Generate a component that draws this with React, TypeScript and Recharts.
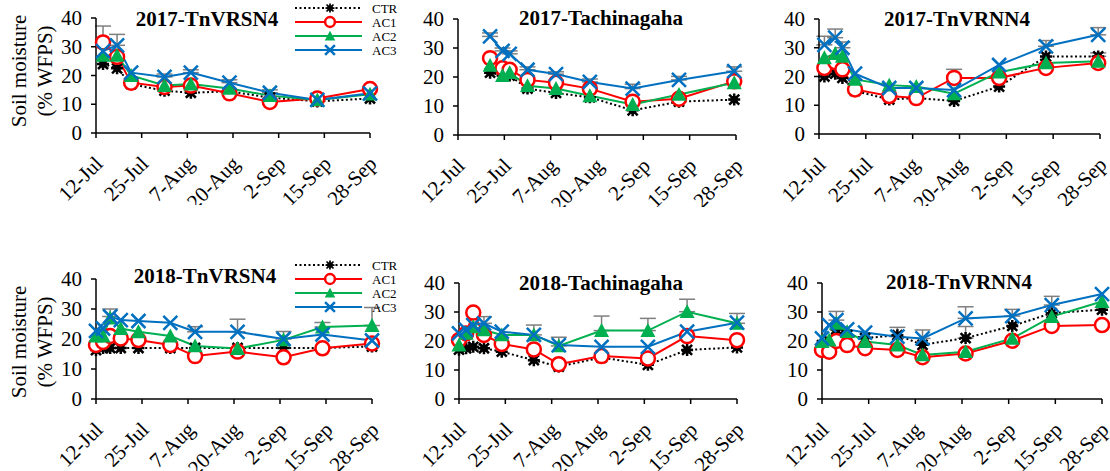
import React from 'react'
import { LineChart, Line, XAxis, YAxis, ErrorBar } from 'recharts'

const FONT = 'Liberation Serif, Times New Roman, serif'

// x axis is days after 12-Jul, ticks every 13 days
const tickDays = [0, 13, 26, 39, 52, 65, 78]
const tickLabels = ['12-Jul', '25-Jul', '7-Aug', '20-Aug', '2-Sep', '15-Sep', '28-Sep']
const yTicks = [0, 10, 20, 30, 40]
const seriesNames = ['CTR', 'AC1', 'AC2', 'AC3']

// 2017-TnVRSN4
const d17a = [2, 6, 10, 19.5, 27, 38, 49.5, 63, 78]
const ctr17a = [24, 22.5, 17, 14.7, 14, 14.5, 12.3, 11, 12]
const ac1_17a = [31.5, 26.5, 17.5, 16, 16.5, 13.8, 10.8, 12, 15.3]
const ac2_17a = [27, 27, 20, 16.5, 17, 15.5, 13, 11.5, 13.5]
const ac3_17a = [28.5, 30.5, 21, 19.5, 21, 17.5, 14, 11.5, 13.8]
const err17a = { ac1: [5.7, 0, 0, 0, 0, 0, 0, 0, 0], ac3: [0, 3.8, 0, 1, 1, 1, 1, 0, 0] }

// 2017-Tachinagaha
const d17b = [9, 12.5, 14.5, 19.5, 27.5, 37, 49, 62, 77.5]
const ctr17b = [21.5, 20.5, 20.5, 16, 14.5, 13, 8.5, 11.5, 12.2]
const ac1_17b = [26.5, 23, 22.5, 19, 18, 16, 11.5, 12.5, 18.5]
const ac2_17b = [24, 20.5, 21.5, 17, 16, 13.5, 10.5, 14, 18]
const ac3_17b = [34, 29, 28, 22.5, 21, 18.3, 16, 19, 22]
const err17b = { ac3: [1.2, 1, 1, 1, 0.8, 1, 1.5, 1.2, 1.5] }

// 2017-TnVRNN4
const d17c = [1.5, 4.5, 6.5, 10, 19.5, 27, 37.5, 50, 63, 77.5]
const ctr17c = [20, 21, 19.5, 15, 12, 12.5, 11.5, 16.5, 27, 27]
const ac1_17c = [23, 25, 22.5, 15.5, 13.2, 12.5, 19.5, 19.5, 23, 24.7]
const ac2_17c = [26.5, 28, 27, 19, 17, 16.5, 14, 21.5, 24.7, 25.3]
const ac3_17c = [31, 33.5, 30, 21, 16, 16, 15.3, 24, 30.5, 34.5]
const err17c = {
  ctr: [0, 0, 0, 0, 0, 0, 0, 0, 0, 1.2],
  ac1: [0, 0, 0, 0, 0, 0, 3, 0, 0, 0],
  ac3: [3, 3, 2, 0, 0, 0, 0, 0, 2, 2.5],
}

// 2018 sampling days (shared by the three sites)
const d18 = [0, 2, 4, 7, 12, 21, 28, 40, 53, 64, 78]

// 2018-TnVRSN4
const ctr18a = [16.3, 17, 17, 17, 17, 17, 17, 17, 17, 17, 17.5]
const ac1_18a = [18, 19, 21, 20.2, 19.7, 18, 14.3, 15.8, 13.9, 16.9, 18.5]
const ac2_18a = [21, 21, 27, 23.5, 22.4, 21, 17.7, 16.8, 19.7, 24, 24.5]
const ac3_18a = [22.7, 23.5, 27.5, 26.3, 26, 25.4, 22.4, 22.4, 20, 21.5, 19.5]
const err18a = {
  ac2: [0, 0, 0, 0, 0, 0, 0, 0, 0, 1.5, 6],
  ac3: [0, 0, 2.5, 0, 0, 0, 1.7, 4.2, 2.5, 0, 0],
}

// 2018-Tachinagaha
const ctr18b = [17, 17.5, 18, 17.5, 16.3, 13.4, 11.2, 14.3, 11.8, 16.9, 17.8]
const ac1_18b = [20.3, 22.6, 29.8, 22.1, 19, 17.1, 12, 14.8, 14, 21.7, 20.3]
const ac2_18b = [18.6, 22.6, 24.9, 23.8, 22.1, 22.1, 18.3, 23.6, 23.6, 30.1, 26.1]
const ac3_18b = [22.6, 23.8, 25.5, 26.1, 23.2, 22.1, 18.6, 18, 18, 23.2, 26.3]
const err18b = {
  ac2: [0, 0, 0, 0, 0, 3.4, 3, 5, 4.2, 4.3, 3.4],
  ac3: [0, 0, 0, 2.3, 0, 0, 0, 0, 0, 0, 0],
}

// 2018-TnVRNN4
const ctr18c = [18.6, 20, 24, 22, 21, 22, 18.7, 21, 25.2, 29.6, 30.8]
const ac1_18c = [16.9, 16.3, 20, 18.6, 17.5, 16.9, 14.4, 15.7, 20.1, 25.2, 25.5]
const ac2_18c = [19.8, 20.3, 26.1, 23.2, 19.8, 18.6, 15.2, 16.3, 20.9, 28.4, 33.6]
const ac3_18c = [20.9, 25.5, 27.2, 24, 22.9, 21.5, 20.9, 27.8, 28.6, 32.4, 36.2]
const err18c = {
  ctr: [0, 0, 0, 0, 0, 0, 0, 4, 0, 0, 0],
  ac3: [0, 0, 3, 0, 0, 3.2, 2.9, 4, 2.3, 3, 0],
}

const RED = '#FF0000'
const GREEN = '#00B050'
const BLUE = '#0070C0'
const GREY = '#7F7F7F'

function CtrMark({ cx, cy, s = 1 }: any) {
  const a = 5 * s
  return (
    <g>
      <path
        d={`M${cx - a} ${cy - a}L${cx + a} ${cy + a}M${cx + a} ${cy - a}L${cx - a} ${cy + a}M${cx} ${cy - a - 1}L${cx} ${cy + a + 1}M${cx - a - 1} ${cy}L${cx + a + 1} ${cy}`}
        stroke="#000"
        strokeWidth={2.5 * s}
      />
      <rect x={cx - 3.5 * s} y={cy - 3.5 * s} width={7 * s} height={7 * s} fill="#000" />
    </g>
  )
}
function CircleMark({ cx, cy, s = 1 }: any) {
  return <circle cx={cx} cy={cy} r={7 * s} fill="#fff" stroke={RED} strokeWidth={2.5} />
}
function TriMark({ cx, cy, s = 1 }: any) {
  const h = 7.5 * s
  return <path d={`M${cx} ${cy - h}L${cx + h} ${cy + h * 0.85}L${cx - h} ${cy + h * 0.85}Z`} fill={GREEN} />
}
function XMark({ cx, cy, s = 1 }: any) {
  const a = 7 * s
  return (
    <path
      d={`M${cx - a} ${cy - a}L${cx + a} ${cy + a}M${cx + a} ${cy - a}L${cx - a} ${cy + a}`}
      stroke={BLUE}
      strokeWidth={2.5}
    />
  )
}

const dotOf = (Mark: any) => (p: any) =>
  p.cx == null ? <g key={p.index} /> : <Mark key={p.index} cx={p.cx} cy={p.cy} />

function XTick({ x, y, payload }: any) {
  const i = tickDays.indexOf(payload.value)
  const ax = x + 8
  const ay = y + 27
  return (
    <text
      x={ax}
      y={ay}
      transform={`rotate(-45 ${ax} ${ay})`}
      textAnchor="end"
      style={{ fontSize: 21, fontFamily: FONT }}
      fill="#000"
    >
      {tickLabels[i]}
    </text>
  )
}

function YTick({ x, y, payload }: any) {
  return (
    <text x={x} y={y} dy={7} textAnchor="end" style={{ fontSize: 21, fontFamily: FONT }} fill="#000">
      {payload.value}
    </text>
  )
}

const eb = (arr: number[] | undefined, i: number) => (arr && arr[i] ? [0, arr[i]] : null)

function Panel({ title, days, ctr, ac1, ac2, ac3, errs, box, titleX, titleY }: any) {
  const data = days.map((d: number, i: number) => ({
    day: d,
    ctr: ctr[i],
    ac1: ac1[i],
    ac2: ac2[i],
    ac3: ac3[i],
    eCtr: eb(errs.ctr, i),
    eAc1: eb(errs.ac1, i),
    eAc2: eb(errs.ac2, i),
    eAc3: eb(errs.ac3, i),
  }))
  const YW = 60
  const MT = 16
  const MR = 10
  const XH = 72
  const w = box.r - box.l + YW + MR
  const h = box.b - box.t + MT + XH
  const errProps = { width: 8, strokeWidth: 1.5, stroke: GREY, direction: 'y' as const }
  return (
    <>
      <div style={{ position: 'absolute', left: box.l - YW, top: box.t - MT }}>
        <LineChart width={w} height={h} data={data} margin={{ top: MT, right: MR, left: 0, bottom: 0 }}>
          <XAxis
            type="number"
            dataKey="day"
            domain={[0, 78]}
            ticks={tickDays}
            interval={0}
            height={XH}
            tickSize={5}
            tickMargin={0}
            tick={<XTick />}
            stroke="#000"
            strokeWidth={1.5}
          />
          <YAxis
            type="number"
            domain={[0, 40]}
            ticks={yTicks}
            interval={0}
            width={YW}
            tickSize={5}
            tickMargin={9}
            tick={<YTick />}
            stroke="#000"
            strokeWidth={1.5}
          />
          <Line dataKey="ctr" stroke="#000" strokeWidth={2} strokeDasharray="2 2.5" dot={dotOf(CtrMark)} isAnimationActive={false}>
            <ErrorBar dataKey="eCtr" {...errProps} />
          </Line>
          <Line dataKey="ac1" stroke={RED} strokeWidth={2} dot={dotOf(CircleMark)} isAnimationActive={false}>
            <ErrorBar dataKey="eAc1" {...errProps} />
          </Line>
          <Line dataKey="ac2" stroke={GREEN} strokeWidth={2} dot={dotOf(TriMark)} isAnimationActive={false}>
            <ErrorBar dataKey="eAc2" {...errProps} />
          </Line>
          <Line dataKey="ac3" stroke={BLUE} strokeWidth={2} dot={dotOf(XMark)} isAnimationActive={false}>
            <ErrorBar dataKey="eAc3" {...errProps} />
          </Line>
        </LineChart>
      </div>
      <div
        style={{
          position: 'absolute',
          left: titleX,
          top: titleY,
          transform: 'translate(-50%, -50%)',
          fontFamily: FONT,
          fontWeight: 'bold',
          fontSize: 21,
          whiteSpace: 'nowrap',
          color: '#000',
        }}
      >
        {title}
      </div>
    </>
  )
}

function YLabel({ cy }: any) {
  return (
    <div
      style={{
        position: 'absolute',
        left: 32,
        top: cy,
        transform: 'translate(-50%, -50%) rotate(-90deg)',
        fontFamily: FONT,
        fontSize: 21,
        lineHeight: '26px',
        textAlign: 'center',
        whiteSpace: 'nowrap',
        color: '#000',
      }}
    >
      Soil moisture
      <br />
      (% WFPS)
    </div>
  )
}

function LegendBox({ top }: any) {
  const marks = [CtrMark, CircleMark, TriMark, XMark]
  const colors = ['#000', RED, GREEN, BLUE]
  return (
    <div style={{ position: 'absolute', left: 290, top, zIndex: 5 }}>
      <svg width={120} height={60} style={{ display: 'block' }}>
        {seriesNames.map((n, i) => {
          const y = 6 + i * 14
          const M = marks[i]
          return (
            <g key={n}>
              <line
                x1={5}
                x2={72}
                y1={y}
                y2={y}
                stroke={colors[i]}
                strokeWidth={2}
                strokeDasharray={i === 0 ? '2 2.5' : undefined}
              />
              <M cx={40} cy={y} s={0.7} />
              <text x={82} y={y + 4.5} style={{ fontSize: 13, fontFamily: FONT }} fill="#000">
                {n}
              </text>
            </g>
          )
        })}
      </svg>
    </div>
  )
}

export default function App() {
  return (
    <div style={{ position: 'absolute', left: 0, top: 0, width: 1110, height: 471, background: '#fff', overflow: 'hidden' }}>
      <Panel title="2017-TnVRSN4" days={d17a} ctr={ctr17a} ac1={ac1_17a} ac2={ac2_17a} ac3={ac3_17a} errs={err17a}
        box={{ l: 96, r: 370, t: 18, b: 133 }} titleX={207} titleY={19} />
      <Panel title="2017-Tachinagaha" days={d17b} ctr={ctr17b} ac1={ac1_17b} ac2={ac2_17b} ac3={ac3_17b} errs={err17b}
        box={{ l: 458, r: 736, t: 19, b: 135 }} titleX={601} titleY={18} />
      <Panel title="2017-TnVRNN4" days={d17c} ctr={ctr17c} ac1={ac1_17c} ac2={ac2_17c} ac3={ac3_17c} errs={err17c}
        box={{ l: 819, r: 1100, t: 19, b: 134 }} titleX={957} titleY={19} />
      <Panel title="2018-TnVRSN4" days={d18} ctr={ctr18a} ac1={ac1_18a} ac2={ac2_18a} ac3={ac3_18a} errs={err18a}
        box={{ l: 96, r: 372, t: 279, b: 399 }} titleX={205} titleY={276} />
      <Panel title="2018-Tachinagaha" days={d18} ctr={ctr18b} ac1={ac1_18b} ac2={ac2_18b} ac3={ac3_18b} errs={err18b}
        box={{ l: 459, r: 737, t: 283, b: 399 }} titleX={601} titleY={283} />
      <Panel title="2018-TnVRNN4" days={d18} ctr={ctr18c} ac1={ac1_18c} ac2={ac2_18c} ac3={ac3_18c} errs={err18c}
        box={{ l: 822, r: 1102, t: 283, b: 399 }} titleX={959} titleY={282} />
      <YLabel cy={71} />
      <YLabel cy={342} />
      <LegendBox top={2} />
      <LegendBox top={259} />
    </div>
  )
}
